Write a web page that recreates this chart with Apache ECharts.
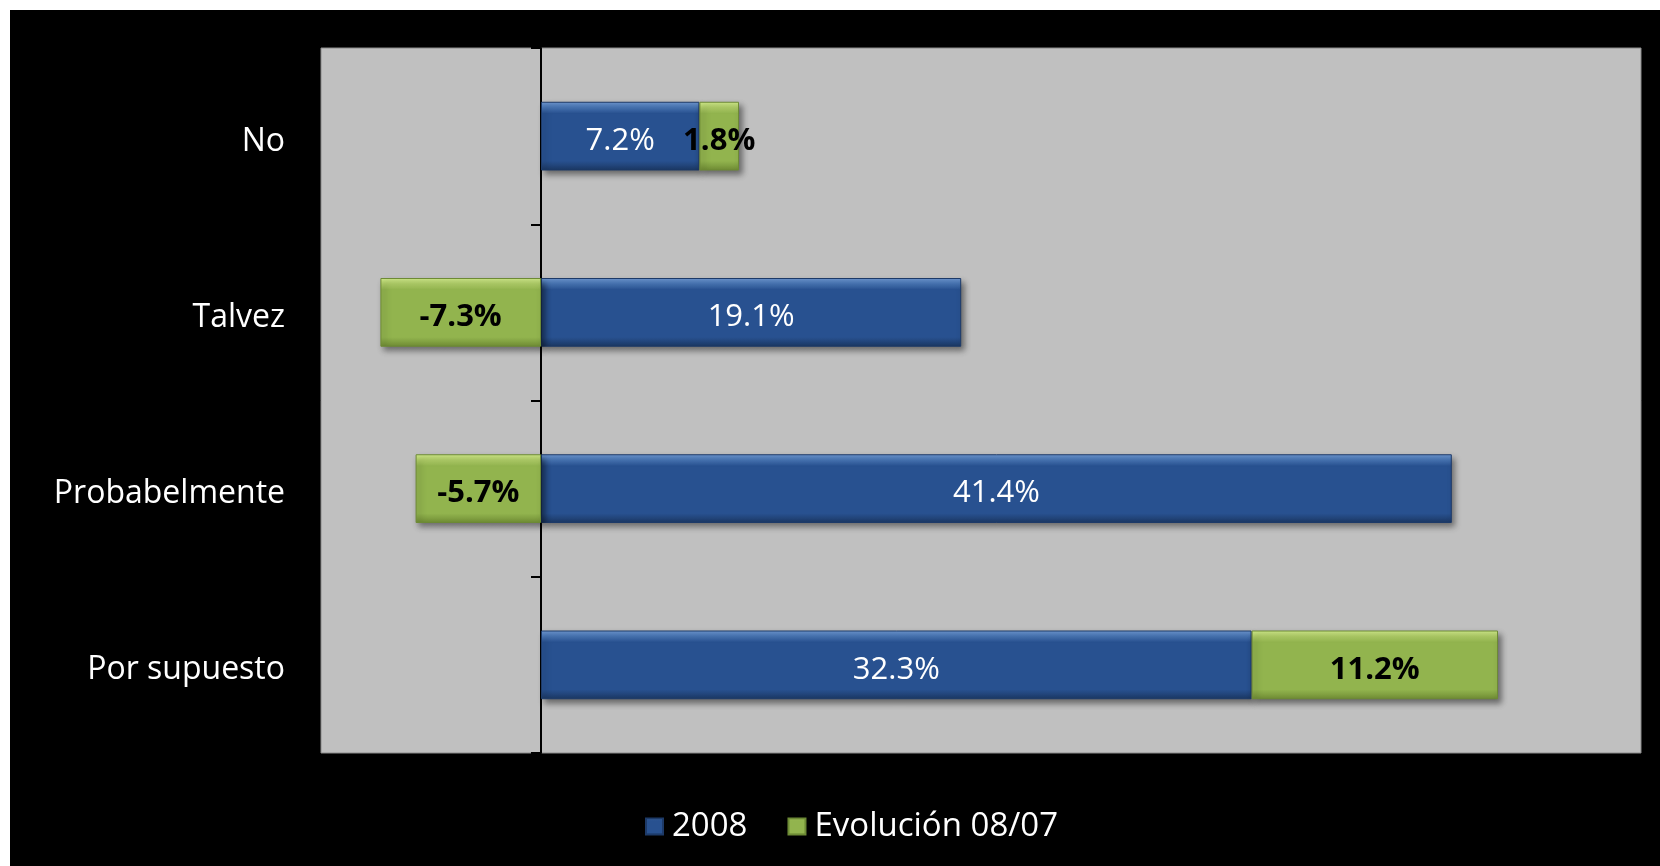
<!DOCTYPE html>
<html>
<head>
<meta charset="utf-8">
<script src="https://cdn.jsdelivr.net/npm/echarts@6/dist/echarts.min.js"></script>
<style>
  html, body { margin: 0; padding: 0; background: #ffffff; }
  #chart { position: absolute; left: 10px; top: 10px; width: 1650px; height: 856px; }
</style>
</head>
<body>
<div id="chart"></div>
<script>
// Survey answers, top to bottom
const categories = ['No', 'Talvez', 'Probabelmente', 'Por supuesto'];
// Share of answers in 2008 (%)
const values2008 = [7.2, 19.1, 41.4, 32.3];
// Change versus 2007 (percentage points)
const evolution = [1.8, -7.3, -5.7, 11.2];
const seriesNames = ['2008', 'Evolución 08/07'];

const FONT = '"Open Sans", "Noto Sans", sans-serif';

// Bevelled look: light top edge, flat body, darker bottom edge
function bevel(light, mid, main, dark) {
  return new echarts.graphic.LinearGradient(0, 0, 0, 1, [
    { offset: 0, color: light },
    { offset: 0.08, color: mid },
    { offset: 0.17, color: main },
    { offset: 0.86, color: main },
    { offset: 1, color: dark }
  ]);
}

const pct = p => p.value.toFixed(1) + '%';

const chart = echarts.init(document.getElementById('chart'));
chart.setOption({
  backgroundColor: '#000000',
  animation: false,
  legend: {
    data: seriesNames,
    left: 630,
    top: 795,
    itemWidth: 17,
    itemHeight: 16,
    itemGap: 40,
    icon: 'rect',
    textStyle: { color: '#ffffff', fontSize: 33, fontFamily: FONT, padding: [0, 0, 0, 4] }
  },
  grid: {
    left: 311,
    top: 38,
    right: 19,
    bottom: 113,
    containLabel: false,
    outerBoundsMode: 'none',
    show: true,
    backgroundColor: '#c0c0c0',
    borderColor: '#8a8a8a',
    borderWidth: 1
  },
  xAxis: {
    type: 'value',
    min: -10,
    max: 50,
    axisLine: { show: false },
    axisTick: { show: false },
    axisLabel: { show: false },
    splitLine: { show: false }
  },
  yAxis: {
    type: 'category',
    data: categories,
    inverse: true,
    axisLine: { show: true, onZero: true, lineStyle: { color: '#000000', width: 2 } },
    axisTick: { show: true, length: 10, lineStyle: { color: '#000000', width: 2 } },
    axisLabel: {
      margin: 36,
      formatter: v => '{cat|' + v + '}',
      rich: {
        cat: {
          color: '#ffffff',
          fontSize: 32,
          fontFamily: FONT,
          padding: [11, 0, 0, 0]
        }
      }
    }
  },
  series: [
    {
      name: seriesNames[0],
      type: 'bar',
      stack: 'total',
      data: values2008,
      barCategoryGap: '61%',
      itemStyle: {
        color: bevel('#7099d2', '#4a78b8', '#285190', '#1b3762'),
        borderColor: '#1d3a68',
        borderWidth: 1,
        shadowColor: 'rgba(0,0,0,0.45)',
        shadowBlur: 6,
        shadowOffsetX: 3,
        shadowOffsetY: 4
      },
      label: {
        show: true,
        position: 'inside',
        offset: [0, 5],
        color: '#ffffff',
        fontSize: 31,
        fontFamily: FONT,
        formatter: pct
      }
    },
    {
      name: seriesNames[1],
      type: 'bar',
      stack: 'total',
      data: evolution,
      barCategoryGap: '61%',
      itemStyle: {
        color: bevel('#d2ec8c', '#b3d16a', '#92b44e', '#6f8c34'),
        borderColor: '#6d8a35',
        borderWidth: 1,
        shadowColor: 'rgba(0,0,0,0.45)',
        shadowBlur: 6,
        shadowOffsetX: 3,
        shadowOffsetY: 4
      },
      label: {
        show: true,
        position: 'inside',
        offset: [0, 5],
        color: '#000000',
        fontSize: 31,
        fontWeight: 'bold',
        fontFamily: FONT,
        formatter: pct
      }
    }
  ]
});
</script>
</body>
</html>
